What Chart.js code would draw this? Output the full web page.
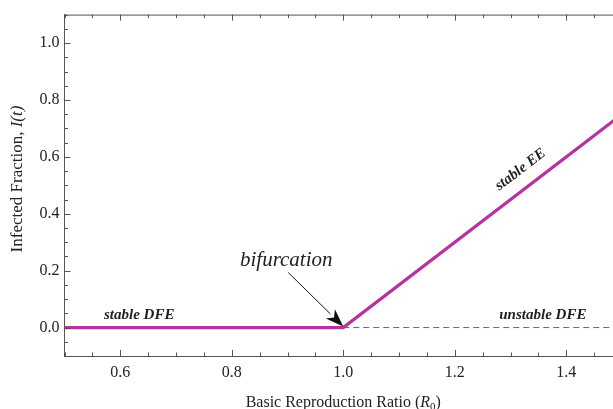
<!DOCTYPE html>
<html>
<head>
<meta charset="utf-8">
<script src="https://cdn.jsdelivr.net/npm/chart.js@4"></script>
<style>
html,body{margin:0;padding:0;background:#fff;overflow:hidden;}
#wrap{width:613px;height:409px;overflow:hidden;position:relative;}
canvas{display:block;}
</style>
</head>
<body>
<div id="wrap"><canvas id="c" width="622" height="409"></canvas></div>
<script>
// Data
const rValues = [0.5, 1.0, 1.5];
const infected = [0, 0, 0.75];
const unstableR = [1.0, 1.5];
const unstableI = [0, 0];
const xTickLabels = [0.6, 0.8, 1.0, 1.2, 1.4];
const yTickLabels = [0.0, 0.2, 0.4, 0.6, 0.8, 1.0];

const SERIF = '"Liberation Serif", "DejaVu Serif", serif';
const TEXT = '#222';
const AXIS = '#555';
const MAGENTA = 'rgb(183,50,160)';

function pts(xs, ys){ return xs.map((x,i)=>({x:x, y:ys[i]})); }

const decor = {
  id: 'decor',
  afterDraw(chart){
    const ctx = chart.ctx, a = chart.chartArea;
    const xs = chart.scales.x, ys = chart.scales.y;
    ctx.save();
    // top border
    ctx.strokeStyle = AXIS; ctx.lineWidth = 1;
    ctx.beginPath(); ctx.moveTo(a.left, a.top+0.5); ctx.lineTo(a.right, a.top+0.5); ctx.stroke();
    // inward ticks x (bottom and top)
    const near = (v, m) => Math.abs(v/m - Math.round(v/m)) < 1e-6;
    for (let k = 0; ; k++) {
      const v = +(xs.min + k*0.05).toFixed(4);
      if (v > xs.max + 1e-9) break;
      const px = Math.round(xs.getPixelForValue(v)) + 0.5;
      const len = near(v, 0.2) ? 6 : 3.5;
      ctx.beginPath();
      ctx.moveTo(px, a.bottom); ctx.lineTo(px, a.bottom - len);
      ctx.moveTo(px, a.top); ctx.lineTo(px, a.top + len);
      ctx.stroke();
    }
    for (let k = 0; ; k++) {
      const v = +(ys.min + k*0.05).toFixed(4);
      if (v > ys.max + 1e-9) break;
      const py = Math.round(ys.getPixelForValue(v)) + 0.5;
      const len = near(v, 0.2) ? 6 : 3.5;
      ctx.beginPath();
      ctx.moveTo(a.left, py); ctx.lineTo(a.left + len, py);
      ctx.stroke();
    }
    // annotations
    ctx.fillStyle = TEXT;
    ctx.textBaseline = 'middle';
    ctx.textAlign = 'center';
    ctx.font = 'italic bold 15px ' + SERIF;
    ctx.fillText('stable DFE', xs.getPixelForValue(0.634), ys.getPixelForValue(0.045));
    ctx.fillText('unstable DFE', xs.getPixelForValue(1.358), ys.getPixelForValue(0.045));
    ctx.save();
    ctx.translate(xs.getPixelForValue(1.318), ys.getPixelForValue(0.555));
    ctx.rotate(-Math.atan2(ys.getPixelForValue(0) - ys.getPixelForValue(0.75), xs.getPixelForValue(1.5) - xs.getPixelForValue(1.0)));
    ctx.fillText('stable EE', 0, 0);
    ctx.restore();
    ctx.font = 'italic 21px ' + SERIF;
    ctx.fillText('bifurcation', xs.getPixelForValue(1.0) - 57, ys.getPixelForValue(0.235));
    // arrow
    const tx = xs.getPixelForValue(1.0), ty = ys.getPixelForValue(0) - 1;
    const sx = tx - 55, sy = ty - 54;
    const ang = Math.atan2(ty - sy, tx - sx);
    const hl = 18, hw = 6.5;
    const bx = tx - hl*Math.cos(ang), by = ty - hl*Math.sin(ang);
    ctx.strokeStyle = '#111'; ctx.lineWidth = 1;
    ctx.beginPath(); ctx.moveTo(sx, sy); ctx.lineTo(bx, by); ctx.stroke();
    ctx.fillStyle = '#111';
    ctx.beginPath();
    ctx.moveTo(tx, ty);
    ctx.lineTo(bx + hw*Math.sin(ang), by - hw*Math.cos(ang));
    ctx.lineTo(tx - (hl-5)*Math.cos(ang), ty - (hl-5)*Math.sin(ang));
    ctx.lineTo(bx - hw*Math.sin(ang), by + hw*Math.cos(ang));
    ctx.closePath(); ctx.fill();
    // axis titles
    ctx.fillStyle = TEXT;
    ctx.textAlign = 'left';
    ctx.textBaseline = 'middle';
    // y title
    const yt1 = 'Infected Fraction, ', yt2 = 'I(t)';
    const yf = '17px ' + SERIF;
    ctx.font = yf; const w1 = ctx.measureText(yt1).width;
    ctx.font = 'italic ' + yf; const w2 = ctx.measureText(yt2).width;
    ctx.save();
    ctx.translate(18, 179);
    ctx.rotate(-Math.PI/2);
    let x0 = -(w1 + w2)/2;
    ctx.font = yf; ctx.fillText(yt1, x0, 0);
    ctx.font = 'italic ' + yf; ctx.fillText(yt2, x0 + w1, 0);
    ctx.restore();
    // x title
    const p1 = 'Basic Reproduction Ratio (', p2 = 'R', p3 = '0', p4 = ')';
    const xf = '16px ' + SERIF;
    ctx.font = xf; const a1 = ctx.measureText(p1).width, a4 = ctx.measureText(p4).width;
    ctx.font = 'italic ' + xf; const a2 = ctx.measureText(p2).width;
    ctx.font = '11px ' + SERIF; const a3 = ctx.measureText(p3).width;
    const tot = a1 + a2 + a3 + a4;
    let xx = xs.getPixelForValue(1.0) - tot/2; const yy = 403;
    ctx.font = xf; ctx.fillText(p1, xx, yy); xx += a1;
    ctx.font = 'italic ' + xf; ctx.fillText(p2, xx, yy); xx += a2;
    ctx.font = '11px ' + SERIF; ctx.fillText(p3, xx, yy + 4); xx += a3;
    ctx.font = xf; ctx.fillText(p4, xx, yy);
    ctx.restore();
  }
};

new Chart(document.getElementById('c'), {
  type: 'scatter',
  data: {
    datasets: [
      {
        data: pts(rValues, infected),
        showLine: true,
        borderColor: MAGENTA,
        borderWidth: 3.2,
        pointRadius: 0,
        tension: 0,
        clip: false,
        order: 0
      },
      {
        data: pts(unstableR, unstableI),
        showLine: true,
        borderColor: '#666',
        borderWidth: 1,
        borderDash: [6, 4],
        pointRadius: 0,
        order: 1
      }
    ]
  },
  options: {
    responsive: false,
    animation: false,
    events: [],
    layout: { padding: { top: 13, right: 0, left: 0, bottom: 0 } },
    plugins: { legend: { display: false }, tooltip: { enabled: false } },
    scales: {
      x: {
        type: 'linear', min: 0.5, max: 1.5,
        afterFit(s){ s.height = 53; },
        afterBuildTicks(s){ s.ticks = xTickLabels.map(v => ({value: v})); },
        grid: { display: true, drawOnChartArea: false, drawTicks: false },
        border: { display: true, color: AXIS, width: 1 },
        ticks: {
          padding: 7,
          color: TEXT,
          font: { family: SERIF, size: 16 },
          callback: v => Number(v).toFixed(1),
          autoSkip: false, maxRotation: 0
        }
      },
      y: {
        type: 'linear', min: -0.1, max: 1.1,
        afterFit(s){ s.width = 64.5; },
        afterBuildTicks(s){ s.ticks = yTickLabels.map(v => ({value: v})); },
        grid: { display: true, drawOnChartArea: false, drawTicks: false },
        border: { display: true, color: AXIS, width: 1 },
        ticks: {
          padding: 5,
          color: TEXT,
          font: { family: SERIF, size: 16 },
          callback: v => Number(v).toFixed(1),
          autoSkip: false
        }
      }
    }
  },
  plugins: [decor]
});
</script>
</body>
</html>
